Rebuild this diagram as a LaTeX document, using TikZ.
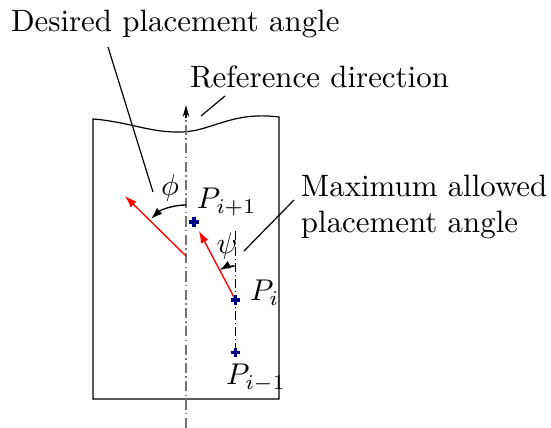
\documentclass[tikz,border=0pt]{standalone}
\usetikzlibrary{arrows.meta}
\definecolor{markblue}{RGB}{0,0,135}
\begin{document}
\begin{tikzpicture}[x=0.33333pt,y=-0.33333pt,
  every node/.style={font=\fontsize{10.3pt}{11.8pt}\selectfont},
  lbl/.style={inner sep=0pt, outer sep=0pt},
  pointer/.style={draw=black, line width=0.4pt},
  redarrow/.style={draw=red, line width=0.45pt, -{Latex[length=4pt,width=2.8pt]}},
  anglearrow/.style={draw=black, line width=0.45pt, -{Latex[length=3.8pt,width=2.7pt]}},
  axisline/.style={draw=black!55, line width=0.5pt, dash pattern=on 3.4pt off 1.1pt on 0.5pt off 1.1pt},
  pmark/.style={draw=markblue, line width=1.2pt}]
\useasboundingbox (0,0) rectangle (551,428);

% plate outline with wavy top
\draw[line width=0.4pt] (93,119) .. controls (130,122) and (150,133) .. (182,132)
  .. controls (212,131) and (232,111) .. (279,117) -- (279,399) -- (93,399) -- cycle;

% reference axis
\coordinate (axB) at (186,428);
\coordinate (axM) at (186,118);
\coordinate (axT) at (186,105);
\draw[axisline] (axB) -- (axM);
\draw[line width=0.5pt, -{Stealth[length=4pt,width=2.2pt]}] (axM) -- (axT);

% points
\coordinate (Pim) at (235.5,352.5);
\coordinate (Pi) at (235.5,300);
\coordinate (Pip) at (194,222);
\coordinate (psiTop) at (235.5,229);

\draw[line width=0.35pt, densely dash dot] (Pim) -- (psiTop);

% red arrows
\coordinate (A) at (186,256);
\coordinate (Atip) at (125,196);
\coordinate (Btip) at (199,231);
\draw[redarrow] (A) -- (Atip);
\draw[redarrow] (Pi) -- (Btip);

% angle arcs
\draw[anglearrow] (186,205) arc[start angle=270, end angle=227, radius=51];
\draw[anglearrow] (235.5,266) arc[start angle=270, end angle=242, radius=34];

\node[lbl] (phi) at (170,188) {$\phi$};
\node[lbl] (psi) at (227,246) {$\psi$};

% point marks
\foreach \p in {Pim,Pi,Pip}{
  \draw[pmark] (\p) ++(-4.8,0) -- ++(9.6,0);
  \draw[pmark] (\p) ++(0,-4.8) -- ++(0,9.6);
}

\node[lbl, anchor=base west] (lPip) at (197,209) {$P_{i+1}$};
\node[lbl, anchor=base west] (lPi) at (250,301) {$P_i$};
\node[lbl, anchor=base west] (lPim) at (226,385) {$P_{i-1}$};

% texts
\node[lbl, anchor=base west] (desired) at (11,32) {Desired placement angle};
\node[lbl, anchor=base west] (refdir) at (190,88) {Reference direction};
\node[lbl, anchor=north west, align=left] (maxang) at (301,175.5) {Maximum allowed\\placement angle};

% pointer lines
\coordinate (d1) at (108,47);
\coordinate (d2) at (153,192);
\coordinate (r1) at (225,96);
\coordinate (r2) at (201,116);
\coordinate (m1) at (294,200);
\coordinate (m2) at (244,251);
\draw[pointer] (d1) -- (d2);
\draw[pointer] (r1) -- (r2);
\draw[pointer] (m1) -- (m2);
\end{tikzpicture}
\end{document}
